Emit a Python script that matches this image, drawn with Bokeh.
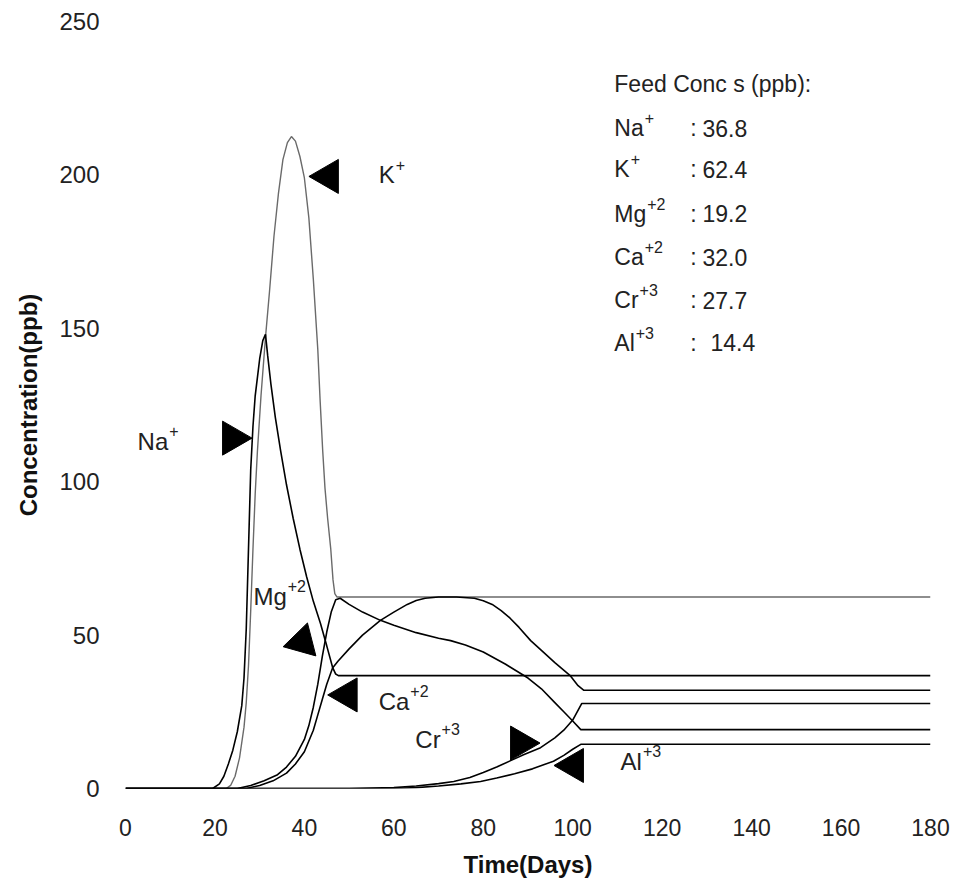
from bokeh.plotting import figure
from bokeh.models import Range1d, FixedTicker
from bokeh.core.properties import value
from bokeh.embed import file_html
from bokeh.resources import INLINE
import math

# Effluent concentrations (ppb) vs time (days) for each ion
na_t = [0, 19.5, 21, 22, 23, 24, 25, 26, 26.5, 27, 27.5, 28, 28.5, 29, 30, 30.7, 31.3,
        31.8, 32.5, 33.5, 34.7, 36, 37.5, 39, 40.5, 42, 43.6, 45, 46.3, 47, 47.6, 180]
na_c = [0, 0, 1.5, 4, 8, 12.5, 18.5, 27, 36, 52, 78, 104, 118, 128, 140, 146, 148,
        141, 132, 121, 110, 99, 88, 78, 69, 61, 53.8, 46.5, 39.5, 37.3, 36.8, 36.8]

k_t = [0, 22.5, 23.5, 24.5, 25.5, 26.5, 27, 27.5, 28, 28.5, 29, 29.5, 30.3, 31.3, 32.2,
       33.2, 34.2, 35.2, 36.2, 37.1, 38, 39, 40, 41, 42, 43, 43.5, 44.1, 44.6, 45.2,
       45.9, 46.4, 46.8, 47.3, 180]
k_c = [0, 0, 1, 4, 10, 20, 28, 40, 58, 78, 96, 110, 128, 147, 162,
       180, 194, 205, 210.5, 212.5, 211, 206, 199, 186, 166, 143, 127, 110, 98, 88,
       78, 68, 63.5, 62.4, 62.4]

mg_t = [0, 25, 28, 31, 34, 36, 38, 40, 41, 42, 43, 44, 45, 46, 47, 48, 50, 53, 57,
        60, 65, 70, 72.7, 76, 80, 85, 90, 93, 96, 98, 100, 101.8, 180]
mg_c = [0, 0, 1, 2.5, 4.5, 7, 10.5, 16, 20.5, 26.5, 34, 43, 51, 57.5, 61.5, 62, 60, 57.5, 54.8,
        53.2, 50.8, 49, 48.2, 46.8, 44.5, 40.5, 36, 32.5, 28, 25, 22, 19.2, 19.2]

ca_t = [0, 27, 30, 33, 36, 38, 40, 42, 43, 44, 45, 46.3, 47.5, 50, 53, 57, 60, 63,
        65, 67, 70, 74, 78, 80, 82, 84, 86, 88, 90.6, 93, 96, 99.5, 101.2, 102.5, 180]
ca_c = [0, 0, 1, 2.5, 5, 8, 12, 19, 24, 29, 34, 39.3, 41.5, 45.5, 50, 54.8, 57.5, 60,
        61.3, 62, 62.4, 62.4, 62, 61.2, 60, 58, 55.5, 52.5, 48.2, 45, 41, 36.7, 33.5, 32, 32]

cr_t = [0, 50, 60, 65, 70, 73.4, 77, 80, 83, 86, 89, 92.8, 96, 98, 100, 101, 102, 180]
cr_c = [0, 0, 0.3, 0.8, 1.6, 2.3, 3.6, 5.2, 7, 9, 11, 13.3, 16.5, 19, 22.3, 25, 27.7, 27.7]

al_t = [0, 60, 65, 70, 75, 79.4, 83, 87, 91, 95.7, 98, 100, 101.8, 180]
al_c = [0, 0, 0.3, 0.8, 1.5, 2.3, 3.4, 4.8, 6.4, 8.9, 10.8, 12.8, 14.4, 14.4]

# Feed concentrations listed in the key
ions = ["Na", "K", "Mg", "Ca", "Cr", "Al"]
charges = ["+", "+", "+2", "+2", "+3", "+3"]
feed = ["36.8", "62.4", "19.2", "32.0", "27.7", "14.4"]

x_ticks = [0, 20, 40, 60, 80, 100, 120, 140, 160, 180]
y_ticks = [0, 50, 100, 150, 200, 250]

FONT = "Liberation Sans"
INK = "#222222"

p = figure(width=967, height=887, output_backend="svg", toolbar_location=None,
           x_range=Range1d(0, 180), y_range=Range1d(0, 250),
           min_border_left=125, min_border_right=37,
           min_border_top=21, min_border_bottom=99)
p.outline_line_color = None
p.grid.visible = False
p.background_fill_color = "white"

for ax in (p.xaxis[0], p.yaxis[0]):
    ax.axis_line_color = None
    ax.major_tick_line_color = None
    ax.minor_tick_line_color = None
    ax.major_label_text_font = FONT
    ax.major_label_text_color = INK
    ax.axis_label_text_font = FONT
    ax.axis_label_text_font_style = "bold"
    ax.axis_label_text_color = "#111111"

p.xaxis.ticker = FixedTicker(ticks=x_ticks)
p.yaxis.ticker = FixedTicker(ticks=y_ticks)
p.xaxis.major_label_text_font_size = "23px"
p.yaxis.major_label_text_font_size = "24px"
p.xaxis.major_label_standoff = 24
p.yaxis.major_label_standoff = 20
p.xaxis.axis_label = "Time(Days)"
p.yaxis.axis_label = "Concentration(ppb)"
p.xaxis.axis_label_text_font_size = "24px"
p.yaxis.axis_label_text_font_size = "24px"
p.xaxis.axis_label_standoff = 12
p.yaxis.axis_label_standoff = 14

# breakthrough curves
p.line(k_t, k_c, line_color="#6a6a6a", line_width=1.4)
for t, c in [(na_t, na_c), (mg_t, mg_c), (ca_t, ca_c), (cr_t, cr_c), (al_t, al_c)]:
    p.line(t, c, line_color="black", line_width=1.6)

# pointer triangles next to the curves
arrow_x = [23.9, 45.4, 39.5, 49.6, 88.3, 100.2]
arrow_y = [114.2, 199.5, 47.8, 30.5, 14.8, 7.5]
arrow_a = [-math.pi / 2, math.pi / 2, math.pi / 2 + 0.25, math.pi / 2, -math.pi / 2, math.pi / 2]
p.scatter(arrow_x, arrow_y, marker="triangle", size=34, angle=arrow_a,
          fill_color="black", line_color="black")

XPX = 805 / 180.0   # pixels per day
YPX = 767 / 250.0   # pixels per ppb


def ion_label(x, y, base, sup, size=24, sup_size=16, raise_px=10):
    p.text([x], [y], text=[base], text_font=value(FONT), text_font_size=f"{size}px",
           text_color=INK, text_baseline="middle", text_align="left")
    w = 0
    widths = {"N": 0.722, "a": 0.556, "K": 0.667, "M": 0.833, "g": 0.556,
              "C": 0.722, "r": 0.333, "A": 0.667, "l": 0.222}
    for ch in base:
        w += widths.get(ch, 0.55) * size
    p.text([x + (w + 1) / XPX], [y + raise_px / YPX], text=[sup], text_font=value(FONT),
           text_font_size=f"{sup_size}px", text_color=INK,
           text_baseline="middle", text_align="left")


# curve labels
ion_label(2.7, 113.2, "Na", "+")
ion_label(56.6, 200.1, "K", "+")
ion_label(28.6, 62.7, "Mg", "+2")
ion_label(56.6, 28.5, "Ca", "+2")
ion_label(64.8, 16.1, "Cr", "+3")
ion_label(110.7, 8.9, "Al", "+3")

# key with feed concentrations
p.text([109.3], [229.7], text=["Feed Conc s (ppb):"], text_font=value(FONT),
       text_font_size="23px", text_color=INK, text_baseline="middle")
key_y = [215.2, 201.8, 187.3, 173.2, 159.1, 145.3]
for ion, ch, f, ky in zip(ions, charges, feed, key_y):
    ion_label(109.3, ky, ion, ch, size=23)
    p.text([126.3], [ky], text=[":"], text_font=value(FONT), text_font_size="23px",
           text_color=INK, text_baseline="middle")
    vx = 130.8 if ion == "Al" else 129.0
    p.text([vx], [ky], text=[f], text_font=value(FONT), text_font_size="23px",
           text_color=INK, text_baseline="middle")

open("out.html", "w").write(file_html(p, INLINE))
